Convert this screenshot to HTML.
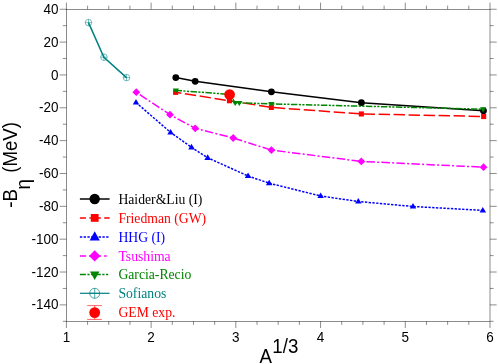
<!DOCTYPE html>
<html><head><meta charset="utf-8"><title>plot</title><style>html,body{margin:0;padding:0;background:#fff}svg{display:block}</style></head><body>
<svg width="498" height="364" viewBox="0 0 498 364" style="display:block">
<rect width="498" height="364" fill="#fff"/>
<g stroke="#000" stroke-width="0.45" fill="none" stroke-linecap="butt">
<rect x="66.4" y="9.25" width="423.60" height="312.05"/>
<path d="M66.40 321.3v6.7M66.40 9.25v-6.7"/>
<path d="M87.58 321.3v3.6M87.58 9.25v-3.6"/>
<path d="M108.76 321.3v3.6M108.76 9.25v-3.6"/>
<path d="M129.94 321.3v3.6M129.94 9.25v-3.6"/>
<path d="M151.12 321.3v6.7M151.12 9.25v-6.7"/>
<path d="M172.30 321.3v3.6M172.30 9.25v-3.6"/>
<path d="M193.48 321.3v3.6M193.48 9.25v-3.6"/>
<path d="M214.66 321.3v3.6M214.66 9.25v-3.6"/>
<path d="M235.84 321.3v6.7M235.84 9.25v-6.7"/>
<path d="M257.02 321.3v3.6M257.02 9.25v-3.6"/>
<path d="M278.20 321.3v3.6M278.20 9.25v-3.6"/>
<path d="M299.38 321.3v3.6M299.38 9.25v-3.6"/>
<path d="M320.56 321.3v6.7M320.56 9.25v-6.7"/>
<path d="M341.74 321.3v3.6M341.74 9.25v-3.6"/>
<path d="M362.92 321.3v3.6M362.92 9.25v-3.6"/>
<path d="M384.10 321.3v3.6M384.10 9.25v-3.6"/>
<path d="M405.28 321.3v6.7M405.28 9.25v-6.7"/>
<path d="M426.46 321.3v3.6M426.46 9.25v-3.6"/>
<path d="M447.64 321.3v3.6M447.64 9.25v-3.6"/>
<path d="M468.82 321.3v3.6M468.82 9.25v-3.6"/>
<path d="M490.00 321.3v6.7M490.00 9.25v-6.7"/>
<path d="M66.4 9.25h-6.7M490.0 9.25h6.7"/>
<path d="M66.4 25.67h-3.6M490.0 25.67h3.6"/>
<path d="M66.4 42.10h-6.7M490.0 42.10h6.7"/>
<path d="M66.4 58.52h-3.6M490.0 58.52h3.6"/>
<path d="M66.4 74.94h-6.7M490.0 74.94h6.7"/>
<path d="M66.4 91.37h-3.6M490.0 91.37h3.6"/>
<path d="M66.4 107.79h-6.7M490.0 107.79h6.7"/>
<path d="M66.4 124.22h-3.6M490.0 124.22h3.6"/>
<path d="M66.4 140.64h-6.7M490.0 140.64h6.7"/>
<path d="M66.4 157.06h-3.6M490.0 157.06h3.6"/>
<path d="M66.4 173.49h-6.7M490.0 173.49h6.7"/>
<path d="M66.4 189.91h-3.6M490.0 189.91h3.6"/>
<path d="M66.4 206.33h-6.7M490.0 206.33h6.7"/>
<path d="M66.4 222.76h-3.6M490.0 222.76h3.6"/>
<path d="M66.4 239.18h-6.7M490.0 239.18h6.7"/>
<path d="M66.4 255.61h-3.6M490.0 255.61h3.6"/>
<path d="M66.4 272.03h-6.7M490.0 272.03h6.7"/>
<path d="M66.4 288.45h-3.6M490.0 288.45h3.6"/>
<path d="M66.4 304.88h-6.7M490.0 304.88h6.7"/>
<path d="M66.4 321.30h-3.6M490.0 321.30h3.6"/>
</g>
<g font-family="Liberation Sans, Arial, sans-serif" font-size="13.5" fill="#000">
<text transform="translate(66.40,342.40) scale(1,1.06)" text-anchor="middle">1</text>
<text transform="translate(151.12,342.40) scale(1,1.06)" text-anchor="middle">2</text>
<text transform="translate(235.84,342.40) scale(1,1.06)" text-anchor="middle">3</text>
<text transform="translate(320.56,342.40) scale(1,1.06)" text-anchor="middle">4</text>
<text transform="translate(405.28,342.40) scale(1,1.06)" text-anchor="middle">5</text>
<text transform="translate(490.00,342.40) scale(1,1.06)" text-anchor="middle">6</text>
<text transform="translate(58.60,13.85) scale(1,1.06)" text-anchor="end">40</text>
<text transform="translate(58.60,46.70) scale(1,1.06)" text-anchor="end">20</text>
<text transform="translate(58.60,79.54) scale(1,1.06)" text-anchor="end">0</text>
<text transform="translate(58.60,112.39) scale(1,1.06)" text-anchor="end">-20</text>
<text transform="translate(58.60,145.24) scale(1,1.06)" text-anchor="end">-40</text>
<text transform="translate(58.60,178.09) scale(1,1.06)" text-anchor="end">-60</text>
<text transform="translate(58.60,210.93) scale(1,1.06)" text-anchor="end">-80</text>
<text transform="translate(58.60,243.78) scale(1,1.06)" text-anchor="end">-100</text>
<text transform="translate(58.60,276.63) scale(1,1.06)" text-anchor="end">-120</text>
<text transform="translate(58.60,309.48) scale(1,1.06)" text-anchor="end">-140</text>
</g>
<g font-family="Liberation Sans, Arial, sans-serif" font-size="18.7" fill="#000">
<text transform="translate(259.60,362.80) scale(1,1.06)">A</text><text transform="translate(272.30,352.90) scale(1,1.06)">1/3</text>
<g transform="translate(16.5,207.8) rotate(-90)"><text transform="translate(0.00,0.00) scale(1,1.06)">-B</text><text transform="translate(18.30,13.40) scale(1,1.06)">η</text><text transform="translate(35.00,0.00) scale(1,1.06)">(MeV)</text></g>
</g>
<path d="M175.8 77.6L195.2 81.3L271.4 91.8L361.4 102.7L483.5 110.8" fill="none" stroke="#000" stroke-width="1.5"/>
<circle cx="175.8" cy="77.6" r="3.4" fill="#000"/>
<circle cx="195.2" cy="81.3" r="3.4" fill="#000"/>
<circle cx="271.4" cy="91.8" r="3.4" fill="#000"/>
<circle cx="361.4" cy="102.7" r="3.4" fill="#000"/>
<circle cx="483.5" cy="110.8" r="3.4" fill="#000"/>
<path d="M175.7 92.3L229.5 100.8L271.4 107.4L361.4 113.9L483.6 116.5" fill="none" stroke="#ff0000" stroke-width="1.5" stroke-dasharray="11.4 3.6" stroke-dashoffset="5.7"/>
<rect x="173.1" y="89.8" width="5.1" height="5.1" fill="#ff0000"/>
<rect x="226.9" y="98.2" width="5.1" height="5.1" fill="#ff0000"/>
<rect x="268.8" y="104.9" width="5.1" height="5.1" fill="#ff0000"/>
<rect x="358.8" y="111.4" width="5.1" height="5.1" fill="#ff0000"/>
<rect x="481.1" y="114.0" width="5.1" height="5.1" fill="#ff0000"/>
<path d="M136.0 102.5L170.6 132.4L191.5 147.3L207.7 157.8L248.1 176.0L269.2 183.2L320.6 196.0L358.3 201.5L413.0 206.5L482.8 210.4" fill="none" stroke="#0000ff" stroke-width="1.5" stroke-dasharray="2.35 1.4"/>
<path d="M136.0 99.0L139.2 104.6L132.8 104.6Z" fill="#0000ff"/>
<path d="M170.6 128.9L173.8 134.5L167.3 134.5Z" fill="#0000ff"/>
<path d="M191.5 143.8L194.8 149.4L188.2 149.4Z" fill="#0000ff"/>
<path d="M207.7 154.3L210.9 159.9L204.4 159.9Z" fill="#0000ff"/>
<path d="M248.1 172.5L251.3 178.1L244.8 178.1Z" fill="#0000ff"/>
<path d="M269.2 179.7L272.4 185.3L265.9 185.3Z" fill="#0000ff"/>
<path d="M320.6 192.5L323.9 198.1L317.4 198.1Z" fill="#0000ff"/>
<path d="M358.3 198.0L361.6 203.6L355.1 203.6Z" fill="#0000ff"/>
<path d="M413.0 203.0L416.2 208.6L409.8 208.6Z" fill="#0000ff"/>
<path d="M482.8 206.9L486.1 212.5L479.6 212.5Z" fill="#0000ff"/>
<path d="M136.3 92.2L170.0 114.7L195.2 128.3L233.2 138.0L271.4 150.1L361.3 161.4L483.5 167.2" fill="none" stroke="#ff00ff" stroke-width="1.5" stroke-dasharray="8.5 2.25 2 2.25" stroke-dashoffset="10.8"/>
<path d="M136.3 88.3L140.2 92.2L136.3 96.1L132.4 92.2Z" fill="#ff00ff"/>
<path d="M170.0 110.8L173.9 114.7L170.0 118.6L166.1 114.7Z" fill="#ff00ff"/>
<path d="M195.2 124.4L199.1 128.3L195.2 132.2L191.3 128.3Z" fill="#ff00ff"/>
<path d="M233.2 134.1L237.1 138.0L233.2 141.9L229.3 138.0Z" fill="#ff00ff"/>
<path d="M271.4 146.2L275.3 150.1L271.4 154.0L267.5 150.1Z" fill="#ff00ff"/>
<path d="M361.3 157.5L365.2 161.4L361.3 165.3L357.4 161.4Z" fill="#ff00ff"/>
<path d="M483.5 163.3L487.4 167.2L483.5 171.1L479.6 167.2Z" fill="#ff00ff"/>
<path d="M175.8 90.4L229.5 94.4L235.2 102.8L239.3 102.8L271.4 103.9L483.1 109.2" fill="none" stroke="#008600" stroke-width="1.5" stroke-dasharray="6.5 1.4 2.15 1.4 2.15 1.4" stroke-dashoffset="0.3"/>
<path d="M175.8 93.7L179.0 88.5L172.7 88.5Z" fill="#008600"/>
<path d="M235.2 106.1L238.3 100.9L232.0 100.9Z" fill="#008600"/>
<path d="M239.3 106.1L242.5 100.9L236.2 100.9Z" fill="#008600"/>
<path d="M271.4 107.2L274.5 102.0L268.2 102.0Z" fill="#008600"/>
<path d="M483.1 112.5L486.2 107.3L480.0 107.3Z" fill="#008600"/>
<path d="M88.5 22.6L103.9 57.2L126.5 77.6" fill="none" stroke="#008282" stroke-width="1.5"/>
<g stroke="#008282" stroke-width="0.5" fill="none"><circle cx="88.5" cy="22.6" r="3.3"/><path d="M85.2 22.6h6.6M88.5 19.3v6.6"/></g>
<g stroke="#008282" stroke-width="0.5" fill="none"><circle cx="103.9" cy="57.2" r="3.3"/><path d="M100.6 57.2h6.6M103.9 53.9v6.6"/></g>
<g stroke="#008282" stroke-width="0.5" fill="none"><circle cx="126.5" cy="77.6" r="3.3"/><path d="M123.2 77.6h6.6M126.5 74.3v6.6"/></g>
<circle cx="229.6" cy="94.5" r="5.3" fill="#ff0000"/>
<g fill="none" stroke-width="1.5">
<path d="M79.9 199.0H109.6" stroke="#000"/>
<path d="M79.9 217.9h6m3.5 0h11.4m3.4 0h5.4" stroke="#ff0000"/>
<path d="M79.9 237.1H109.6" stroke="#0000ff" stroke-dasharray="2.35 1.4"/>
<path d="M79.9 255.9h6.2m3 0h12m3 0h2.6" stroke="#ff00ff"/>
<path d="M79.9 274.6H109.6" stroke="#008600" stroke-dasharray="6 1.5 2.2 1.5 2.2 1.5"/>
<path d="M79.9 293.3H109.6" stroke="#008282" stroke-width="1.2"/>
</g>
<circle cx="94.7" cy="199.0" r="5.2" fill="#000"/>
<rect x="90.8" y="214.0" width="7.8" height="7.8" fill="#ff0000"/>
<path d="M94.7 231.3L99.8 240.5L89.6 240.5Z" fill="#0000ff"/>
<path d="M94.7 250.3L100.3 255.9L94.7 261.5L89.1 255.9Z" fill="#ff00ff"/>
<path d="M94.7 280.0L99.5 271.5L90.0 271.5Z" fill="#008600"/>
<g stroke="#008282" stroke-width="0.7" fill="none"><circle cx="94.7" cy="293.3" r="5.0"/><path d="M89.7 293.3h10.0M94.7 288.3v10.0"/></g>
<path d="M94.7 305.6V319.4M87.2 305.6H101.9M87.2 319.4H101.9" stroke="#ff0000" stroke-width="0.6" fill="none"/>
<circle cx="94.7" cy="312.6" r="5.4" fill="#ff0000"/>
<g font-family="Liberation Serif, Times New Roman, serif" font-size="13.7">
<text transform="translate(118.40,203.70) scale(1,1.03)" fill="#000">Haider&amp;Liu (I)</text>
<text transform="translate(118.40,222.60) scale(1,1.03)" fill="#ff0000">Friedman (GW)</text>
<text transform="translate(118.40,241.80) scale(1,1.03)" fill="#0000ff">HHG (I)</text>
<text transform="translate(118.40,260.60) scale(1,1.03)" fill="#ff00ff">Tsushima</text>
<text transform="translate(118.40,279.30) scale(1,1.03)" fill="#008600">Garcia-Recio</text>
<text transform="translate(118.40,298.00) scale(1,1.03)" fill="#008282">Sofianos</text>
<text transform="translate(118.40,317.30) scale(1,1.03)" fill="#ff0000">GEM exp.</text>
</g>
</svg>
</body></html>
